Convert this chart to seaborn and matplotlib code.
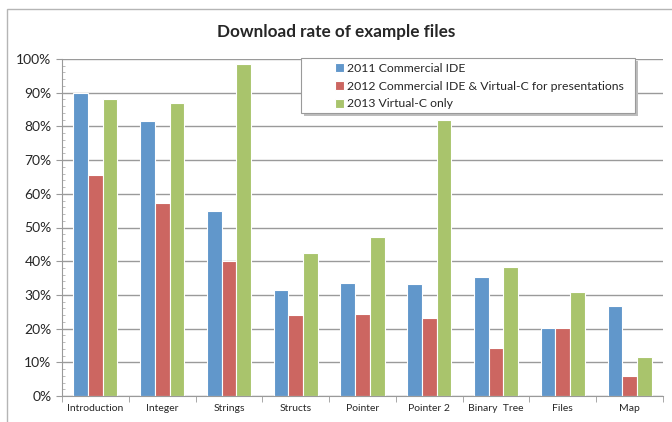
import matplotlib
matplotlib.use("Agg")
import matplotlib.pyplot as plt
from matplotlib.ticker import MultipleLocator, PercentFormatter
from matplotlib.patches import Rectangle
import pandas as pd
import seaborn as sns

# ── Data ──────────────────────────────────────────────────────
categories = ["Introduction", "Integer", "Strings", "Structs", "Pointer",
              "Pointer 2", "Binary  Tree", "Files", "Map"]
series = ["2011 Commercial IDE",
          "2012 Commercial IDE & Virtual-C for presentations",
          "2013 Virtual-C only"]
rate_2011 = [90.0, 81.5, 55.0, 31.6, 33.4, 33.3, 35.3, 20.2, 26.8]
rate_2012 = [65.7, 57.3, 40.2, 24.1, 24.3, 23.0, 14.3, 20.2, 5.9]
rate_2013 = [88.0, 86.8, 98.5, 42.5, 47.1, 82.0, 38.3, 30.8, 11.7]

colors = ["#6197CB", "#CC6661", "#A9C46C"]

rows = []
for name, vals in zip(series, [rate_2011, rate_2012, rate_2013]):
    for cat, v in zip(categories, vals):
        rows.append({"category": cat, "series": name, "rate": v})
df = pd.DataFrame(rows)

sns.set_style("white")
plt.rcParams["font.family"] = ["Lato", "DejaVu Sans"]

W, H = 672, 422
fig = plt.figure(figsize=(W / 100, H / 100), dpi=100)
ax = fig.add_axes([62 / W, 26 / H, 601 / W, 337 / H])

sns.barplot(data=df, x="category", y="rate", hue="series", order=categories,
            hue_order=series, palette=colors, width=0.66, edgecolor="white",
            linewidth=0.8, saturation=1, ax=ax)

ax.set_ylim(0, 100)
ax.set_xlim(-0.5, len(categories) - 0.5)
ax.yaxis.set_major_locator(MultipleLocator(10))
ax.yaxis.set_minor_locator(MultipleLocator(2))
ax.yaxis.set_major_formatter(PercentFormatter(decimals=0))
ax.grid(axis="y", which="major", color="#9a9a9a", lw=1)
ax.set_axisbelow(True)
ax.set_xlabel("")
ax.set_ylabel("")

for side in ["top", "right"]:
    ax.spines[side].set_visible(False)
ax.spines["left"].set_color("#9a9a9a")
ax.spines["bottom"].set_color("#9a9a9a")

ax.tick_params(axis="y", which="major", length=4, color="#9a9a9a",
               labelsize=10, left=True)
ax.tick_params(axis="y", which="minor", length=2, color="#b0b0b0",
               direction="in", left=True)
ax.tick_params(axis="x", which="major", length=0, labelsize=7.5, pad=6)
ax.set_xticks(range(len(categories)), minor=False)
ax.set_xticks([i + 0.5 for i in range(-1, len(categories))], minor=True)
ax.tick_params(axis="x", which="minor", length=4, color="#9a9a9a", bottom=True)

fig.text(0.5, (H - 32) / H, "Download rate of example files", fontsize=12.3,
         fontweight="bold", ha="center", va="center")

# legend frame with a soft shadow, drawn by hand so the entries sit indented
ax.add_patch(Rectangle((304 / W, (H - 116) / H), 334 / W, 55 / H,
                       transform=fig.transFigure, facecolor="#bdbdbd",
                       edgecolor="none", zorder=5, clip_on=False))
ax.add_patch(Rectangle((301 / W, (H - 113) / H), 334 / W, 55 / H,
                       transform=fig.transFigure, facecolor="white",
                       edgecolor="#9a9a9a", lw=0.8, zorder=6, clip_on=False))
leg = ax.legend(loc="upper left", bbox_to_anchor=(335 / W, (H - 63) / H),
                bbox_transform=fig.transFigure, frameon=False,
                fontsize=8.8, handlelength=0.75, handleheight=0.75,
                handletextpad=0.25, labelspacing=0.55, borderpad=0,
                borderaxespad=0)
leg.set_zorder(7)

# chart area border (top and left edges visible in the reference)
fig.patches.append(Rectangle((7 / W, -0.2), 1.2, (H - 9) / H + 0.2,
                             transform=fig.transFigure, fill=False,
                             edgecolor="#b5b5b5", lw=1))

fig.savefig("out.png", dpi=100)
